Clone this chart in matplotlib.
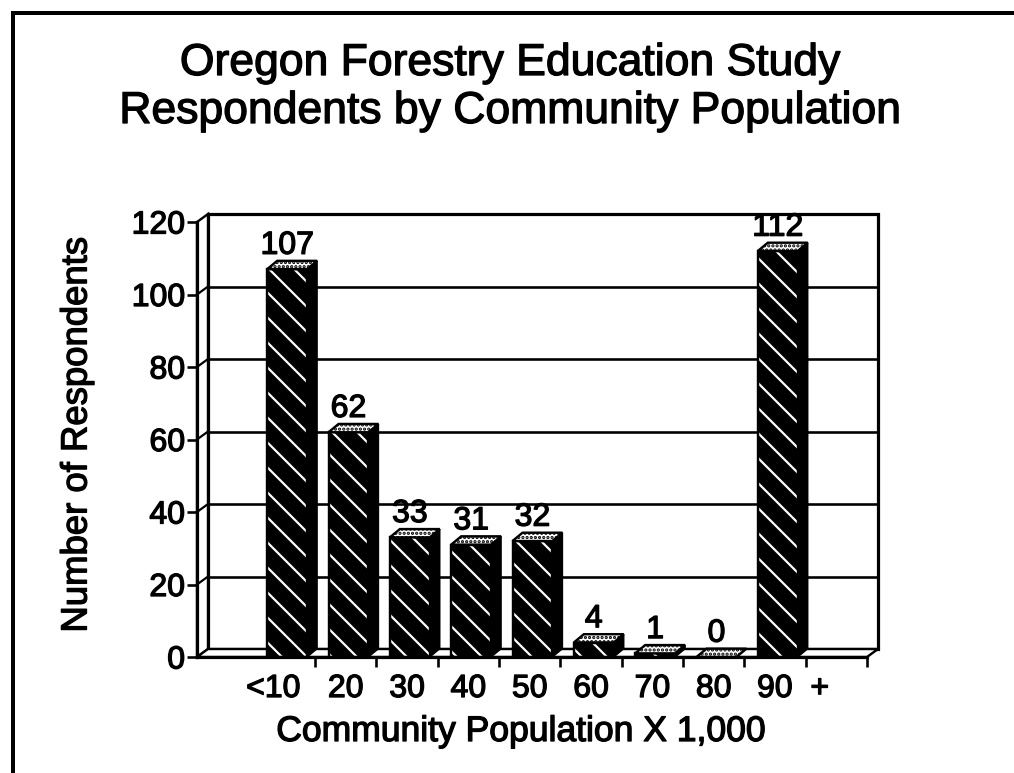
import matplotlib
matplotlib.use('Agg')
import matplotlib.pyplot as plt
import matplotlib.patheffects as pe
from matplotlib.patches import Polygon, Rectangle

# ---------------- data ----------------
categories = ["<10", "20", "30", "40", "50", "60", "70", "80", "90 +"]
respondents = [107, 62, 33, 31, 32, 4, 1, 0, 112]
y_ticks = [0, 20, 40, 60, 80, 100, 120]

title_lines = ["Oregon Forestry Education Study",
               "Respondents by Community Population"]
x_label = "Community Population X 1,000"
y_label = "Number of Respondents"

# ---------------- layout helpers ----------------
DPI = 75
W, H = 1014, 773


def pt(px):
    return px * 72.0 / DPI


plt.rcParams['font.family'] = ['Liberation Sans', 'DejaVu Sans']
plt.rcParams['hatch.linewidth'] = pt(2.2)

# scanned look: slightly heavier glyphs
heavy = [pe.withStroke(linewidth=pt(1.3), foreground='black')]

fig = plt.figure(figsize=(W / DPI, H / DPI), dpi=DPI, facecolor='white')

# front plane of the pseudo-3D plot (pixels)
L, R, B, T = 197, 867, 657, 222
ax = fig.add_axes([L / W, 1 - B / H, (R - L) / W, (B - T) / H])
n_slots = 10
x0 = -0.925
ax.set_xlim(x0, n_slots)
ax.set_ylim(0, 120)
ax.set_facecolor('none')

slot_px = (R - L) / (n_slots - x0)
unit_px = (B - T) / 120.0
dxw, dyw = 11 / slot_px, 8 / unit_px      # wall depth
dxb, dyb = 10 / slot_px, 8.3 / unit_px    # bar depth

LW = pt(3.2)

# back wall
ax.add_patch(Rectangle((x0 + dxw, dyw), n_slots - x0, 120, facecolor='white',
                       edgecolor='black', lw=LW, clip_on=False, zorder=0.5))
for k in y_ticks[1:-1]:
    ax.plot([x0 + dxw, n_slots + dxw], [k + dyw, k + dyw], color='black',
            lw=pt(2.6), clip_on=False, zorder=0.6, solid_capstyle='butt')
# left wall
ax.add_patch(Polygon([(x0, 0), (x0 + dxw, dyw), (x0 + dxw, 120 + dyw), (x0, 120)],
                     closed=True, facecolor='white', edgecolor='black', lw=pt(2.4),
                     clip_on=False, zorder=0.7))
for k in y_ticks[1:-1]:
    ax.plot([x0, x0 + dxw], [k, k + dyw], color='black', lw=pt(2.2),
            clip_on=False, zorder=0.8)
# floor
ax.add_patch(Polygon([(x0, 0), (n_slots, 0), (n_slots + dxw, dyw), (x0 + dxw, dyw)],
                     closed=True, facecolor='white', edgecolor='black', lw=pt(2.4),
                     clip_on=False, zorder=0.9))

# bars
xs = list(range(len(categories)))
lefts = [i + 0.22 for i in xs]
bw = 0.65
ax.bar(lefts, respondents, width=bw, align='edge', color='black',
       edgecolor='white', hatch='\\', linewidth=0, zorder=3)
ax.bar(lefts, respondents, width=bw, align='edge', fill=False,
       edgecolor='black', linewidth=pt(2.4), zorder=3.2)
for l, v in zip(lefts, respondents):
    r = l + bw
    ax.add_patch(Polygon([(r, 0), (r + dxb, dyb), (r + dxb, v + dyb), (r, v)],
                         closed=True, facecolor='black', edgecolor='black',
                         lw=pt(1.5), clip_on=False, zorder=2.9))
    ax.add_patch(Polygon([(l, v), (l + dxb, v + dyb), (r + dxb, v + dyb), (r, v)],
                         closed=True, facecolor='white', edgecolor='black',
                         hatch='...', lw=pt(2.4), clip_on=False, zorder=3.3))
    ax.annotate(str(v), xy=(l + bw / 2, v + dyb), xytext=(0, pt(7)),
                textcoords='offset points', ha='center', va='baseline',
                fontsize=pt(32), zorder=5, annotation_clip=False,
                path_effects=heavy)

# axes spines & ticks
for s in ['top', 'right']:
    ax.spines[s].set_visible(False)
for s in ['left', 'bottom']:
    ax.spines[s].set_linewidth(LW)
    ax.spines[s].set_zorder(4)
ax.set_yticks(y_ticks)
ax.set_yticklabels([str(t) for t in y_ticks])
ax.set_xticks(list(range(1, n_slots + 1)))
ax.set_xticklabels([])
ax.tick_params(axis='both', direction='out', length=pt(10), width=pt(2.6),
               labelsize=pt(32), pad=pt(2))
for lab in ax.get_yticklabels():
    lab.set_path_effects(heavy)

# category labels
for i, c in zip(xs, categories):
    if i == 0:
        ha, dx, txt = 'right', 16, c
    elif i == len(categories) - 1:
        ha, dx, txt = 'left', -18, c.replace(' ', '  ')
    else:
        ha, dx, txt = 'center', 0, c
    ax.annotate(txt, xy=(i + 0.5, 0), xytext=(pt(dx), -pt(40)),
                textcoords='offset points', ha=ha, va='baseline',
                fontsize=pt(32), annotation_clip=False, path_effects=heavy)

# titles and axis labels
fig.text(510 / W, 1 - 75 / H, title_lines[0], ha='center', va='baseline',
         fontsize=pt(44.5), path_effects=heavy)
fig.text(510 / W, 1 - 123 / H, title_lines[1], ha='center', va='baseline',
         fontsize=pt(44.5), path_effects=heavy)
fig.text(77 / W, 1 - 435 / H, y_label, rotation=90, ha='center', va='center',
         fontsize=pt(36.5), path_effects=heavy)
fig.text(521 / W, 1 - 741 / H, x_label, ha='center', va='baseline',
         fontsize=pt(35.5), path_effects=heavy)

# outer frame (only top and left edges fall inside the image)
fig.patches.append(Rectangle((13 / W, -0.1), 1.2, (H - 13) / H + 0.1,
                             transform=fig.transFigure, fill=False,
                             edgecolor='black', lw=pt(4)))

fig.savefig('out.png', dpi=DPI, facecolor='white')
